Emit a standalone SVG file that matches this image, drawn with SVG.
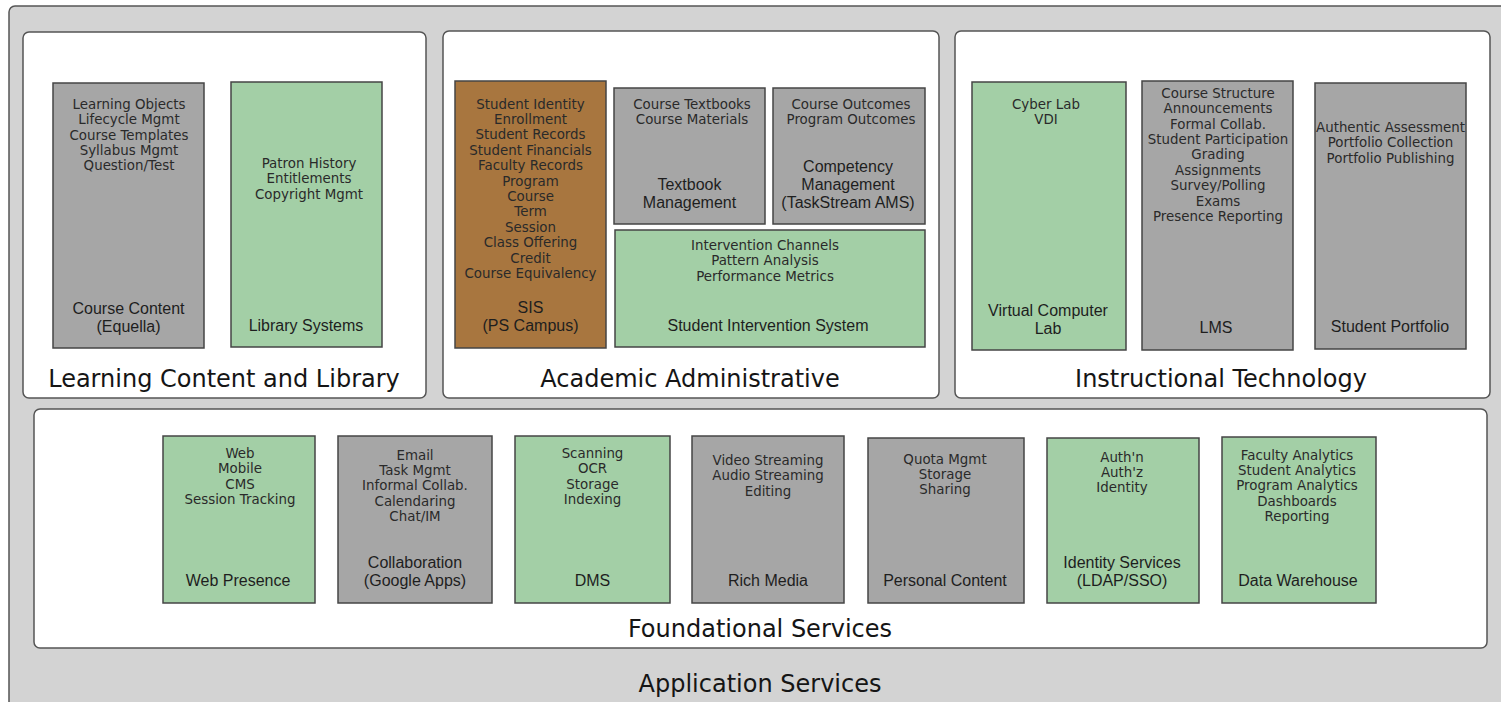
<svg xmlns="http://www.w3.org/2000/svg" width="1501" height="702" viewBox="0 0 1501 702">
<style>
.cont{fill:#ffffff;stroke:#555555;stroke-width:1.5}
.gray{fill:#a6a6a6;stroke:#454545;stroke-width:1.5}
.green{fill:#a3cfa6;stroke:#454545;stroke-width:1.5}
.brown{fill:#a8763f;stroke:#454545;stroke-width:1.5}
.it{font-family:"DejaVu Sans",Verdana,sans-serif;font-size:13.4px;fill:#2a2a2a;text-anchor:middle}
.tt{font-family:"Liberation Sans",Arial,sans-serif;font-size:16px;fill:#1e1e1e;text-anchor:middle}
.sec{font-family:"DejaVu Sans",Verdana,sans-serif;font-size:24px;fill:#151515;text-anchor:middle}
</style>
<rect width="1501" height="702" fill="#ffffff"/>
<g id="application-services">
<rect x="9" y="6" width="1510" height="720" rx="6" fill="#d3d3d3" stroke="#555555" stroke-width="1.5"/>
<text class="sec" x="760" y="692">Application Services</text>
</g>
<g id="learning-content">
<rect class="cont" x="23" y="32" width="403" height="366" rx="6"/>
<text class="sec" x="224" y="387">Learning Content and Library</text>
</g>
<g id="course-content">
<rect class="gray" x="53" y="83" width="151" height="265"/>
<text class="it" x="129" y="108.5">Learning Objects</text>
<text class="it" x="129" y="124">Lifecycle Mgmt</text>
<text class="it" x="129" y="139.5">Course Templates</text>
<text class="it" x="129" y="155">Syllabus Mgmt</text>
<text class="it" x="129" y="170">Question/Test</text>
<text class="tt" x="128.5" y="313.5">Course Content</text>
<text class="tt" x="128.5" y="331.5">(Equella)</text>
</g>
<g id="library-systems">
<rect class="green" x="231" y="82" width="151" height="265"/>
<text class="it" x="309" y="167.5">Patron History</text>
<text class="it" x="309" y="183">Entitlements</text>
<text class="it" x="309" y="198.5">Copyright Mgmt</text>
<text class="tt" x="306" y="330.5">Library Systems</text>
</g>
<g id="academic-administrative">
<rect class="cont" x="443" y="31" width="496" height="367" rx="6"/>
<text class="sec" x="690" y="387">Academic Administrative</text>
</g>
<g id="sis">
<rect class="brown" x="455" y="81" width="151" height="267"/>
<text class="it" x="530.5" y="108.5">Student Identity</text>
<text class="it" x="530.5" y="124">Enrollment</text>
<text class="it" x="530.5" y="139.3">Student Records</text>
<text class="it" x="530.5" y="154.7">Student Financials</text>
<text class="it" x="530.5" y="170.1">Faculty Records</text>
<text class="it" x="530.5" y="185.5">Program</text>
<text class="it" x="530.5" y="200.9">Course</text>
<text class="it" x="530.5" y="216.3">Term</text>
<text class="it" x="530.5" y="231.7">Session</text>
<text class="it" x="530.5" y="247.1">Class Offering</text>
<text class="it" x="530.5" y="262.5">Credit</text>
<text class="it" x="530.5" y="277.9">Course Equivalency</text>
<text class="tt" x="530.5" y="312.5">SIS</text>
<text class="tt" x="530.5" y="330.5">(PS Campus)</text>
</g>
<g id="textbook-management">
<rect class="gray" x="614" y="88" width="151" height="136"/>
<text class="it" x="692" y="108.5">Course Textbooks</text>
<text class="it" x="692" y="124">Course Materials</text>
<text class="tt" x="689.5" y="189.5">Textbook</text>
<text class="tt" x="689.5" y="207.5">Management</text>
</g>
<g id="competency-management">
<rect class="gray" x="773" y="88" width="152" height="136"/>
<text class="it" x="851" y="108.5">Course Outcomes</text>
<text class="it" x="851" y="124">Program Outcomes</text>
<text class="tt" x="848" y="171.5">Competency</text>
<text class="tt" x="848" y="189.5">Management</text>
<text class="tt" x="848" y="207.5">(TaskStream AMS)</text>
</g>
<g id="student-intervention">
<rect class="green" x="615" y="230" width="310" height="117"/>
<text class="it" x="765" y="249.5">Intervention Channels</text>
<text class="it" x="765" y="265">Pattern Analysis</text>
<text class="it" x="765" y="280.5">Performance Metrics</text>
<text class="tt" x="768" y="330.5">Student Intervention System</text>
</g>
<g id="instructional-technology">
<rect class="cont" x="955" y="31" width="535" height="367" rx="6"/>
<text class="sec" x="1221" y="387">Instructional Technology</text>
</g>
<g id="virtual-computer-lab">
<rect class="green" x="972" y="82" width="154" height="268"/>
<text class="it" x="1046" y="108.5">Cyber Lab</text>
<text class="it" x="1046" y="124">VDI</text>
<text class="tt" x="1048" y="315.5">Virtual Computer</text>
<text class="tt" x="1048" y="333.5">Lab</text>
</g>
<g id="lms">
<rect class="gray" x="1142" y="81" width="151" height="269"/>
<text class="it" x="1218" y="97.8">Course Structure</text>
<text class="it" x="1218" y="113.2">Announcements</text>
<text class="it" x="1218" y="128.6">Formal Collab.</text>
<text class="it" x="1218" y="144">Student Participation</text>
<text class="it" x="1218" y="159.4">Grading</text>
<text class="it" x="1218" y="174.8">Assignments</text>
<text class="it" x="1218" y="190.2">Survey/Polling</text>
<text class="it" x="1218" y="205.6">Exams</text>
<text class="it" x="1218" y="221">Presence Reporting</text>
<text class="tt" x="1216" y="332.5">LMS</text>
</g>
<g id="student-portfolio">
<rect class="gray" x="1315" y="83" width="151" height="266"/>
<text class="it" x="1390.5" y="131.5">Authentic Assessment</text>
<text class="it" x="1390.5" y="147">Portfolio Collection</text>
<text class="it" x="1390.5" y="162.5">Portfolio Publishing</text>
<text class="tt" x="1390" y="331.5">Student Portfolio</text>
</g>
<g id="foundational-services">
<rect class="cont" x="34" y="409" width="1453" height="239" rx="6"/>
<text class="sec" x="760" y="637">Foundational Services</text>
</g>
<g id="web-presence">
<rect class="green" x="163" y="436" width="152" height="167"/>
<text class="it" x="240" y="458">Web</text>
<text class="it" x="240" y="473.4">Mobile</text>
<text class="it" x="240" y="488.8">CMS</text>
<text class="it" x="240" y="504.2">Session Tracking</text>
<text class="tt" x="238" y="585.5">Web Presence</text>
</g>
<g id="collaboration">
<rect class="gray" x="338" y="436" width="154" height="167"/>
<text class="it" x="415" y="459.5">Email</text>
<text class="it" x="415" y="474.9">Task Mgmt</text>
<text class="it" x="415" y="490.3">Informal Collab.</text>
<text class="it" x="415" y="505.7">Calendaring</text>
<text class="it" x="415" y="521.1">Chat/IM</text>
<text class="tt" x="415" y="568">Collaboration</text>
<text class="tt" x="415" y="586">(Google Apps)</text>
</g>
<g id="dms">
<rect class="green" x="515" y="436" width="155" height="167"/>
<text class="it" x="592.5" y="458">Scanning</text>
<text class="it" x="592.5" y="473.4">OCR</text>
<text class="it" x="592.5" y="488.8">Storage</text>
<text class="it" x="592.5" y="504.2">Indexing</text>
<text class="tt" x="592.5" y="585.5">DMS</text>
</g>
<g id="rich-media">
<rect class="gray" x="692" y="436" width="152" height="167"/>
<text class="it" x="768" y="465">Video Streaming</text>
<text class="it" x="768" y="480.4">Audio Streaming</text>
<text class="it" x="768" y="495.8">Editing</text>
<text class="tt" x="768" y="585.5">Rich Media</text>
</g>
<g id="personal-content">
<rect class="gray" x="868" y="438" width="156" height="165"/>
<text class="it" x="945" y="463.5">Quota Mgmt</text>
<text class="it" x="945" y="478.9">Storage</text>
<text class="it" x="945" y="494.3">Sharing</text>
<text class="tt" x="945" y="585.5">Personal Content</text>
</g>
<g id="identity-services">
<rect class="green" x="1047" y="438" width="152" height="165"/>
<text class="it" x="1122" y="461.5">Auth'n</text>
<text class="it" x="1122" y="476.9">Auth'z</text>
<text class="it" x="1122" y="492.3">Identity</text>
<text class="tt" x="1122" y="568">Identity Services</text>
<text class="tt" x="1122" y="586">(LDAP/SSO)</text>
</g>
<g id="data-warehouse">
<rect class="green" x="1222" y="437" width="154" height="166"/>
<text class="it" x="1297" y="459.5">Faculty Analytics</text>
<text class="it" x="1297" y="474.9">Student Analytics</text>
<text class="it" x="1297" y="490.3">Program Analytics</text>
<text class="it" x="1297" y="505.7">Dashboards</text>
<text class="it" x="1297" y="521.1">Reporting</text>
<text class="tt" x="1298" y="585.5">Data Warehouse</text>
</g>
<g id="connectors"></g>
</svg>
